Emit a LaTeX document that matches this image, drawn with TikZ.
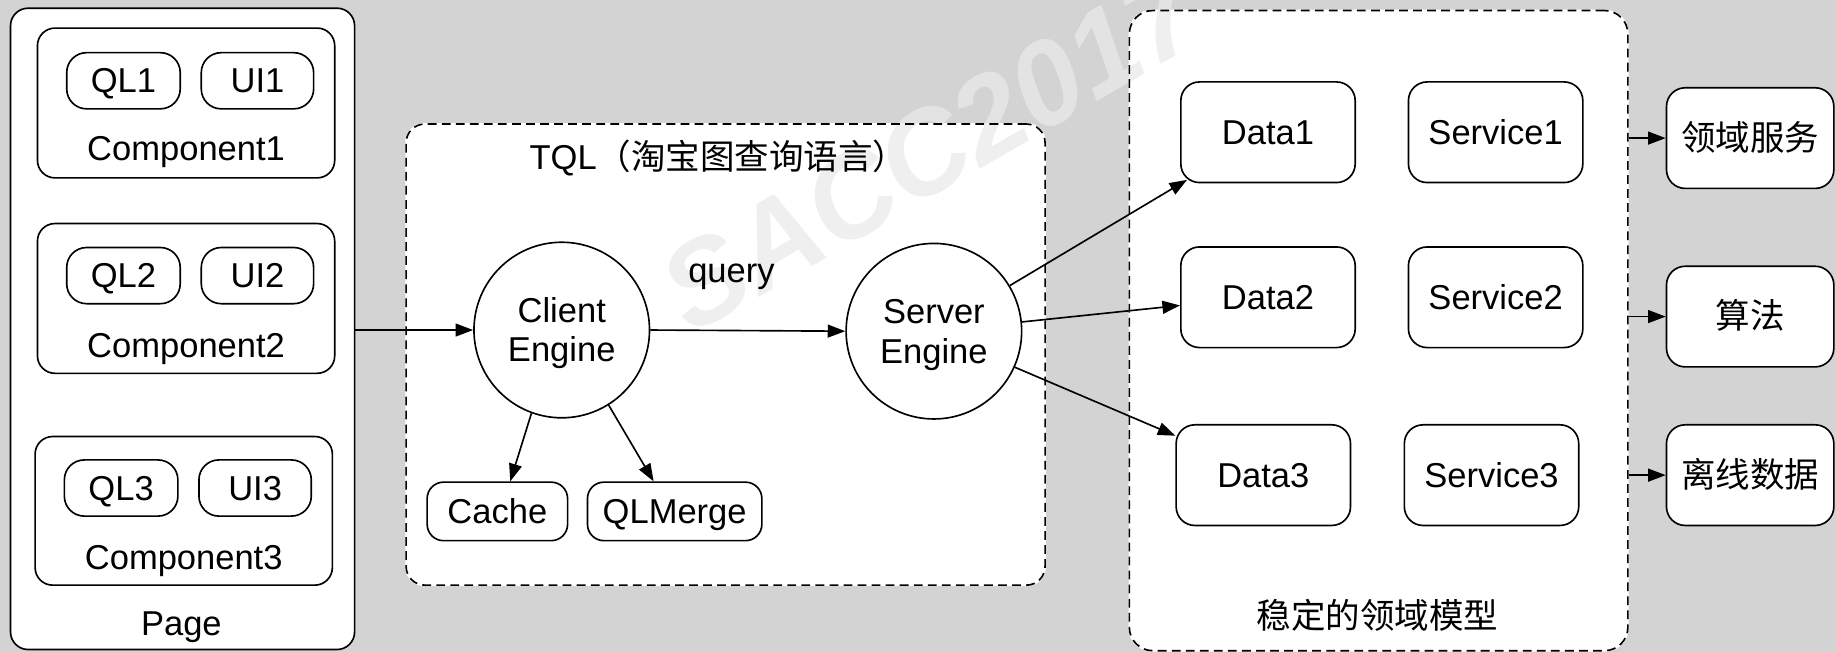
\documentclass[tikz,border=0pt]{standalone}
\usepackage{fontspec}
\setmainfont{Liberation Sans}
\newfontfamily\cjk{Noto Sans CJK SC}
\usetikzlibrary{arrows.meta}
\pgfdeclarelayer{bg}
\pgfdeclarelayer{wm}
\pgfsetlayers{bg,wm,main}
\definecolor{bggray}{RGB}{211,211,211}
\definecolor{wmgray}{RGB}{234,234,234}
\begin{document}
\begin{tikzpicture}[x=1pt,y=-1pt,
  every node/.style={font=\fontsize{29.5}{34}\selectfont, inner sep=0pt, text height=20.5pt, text depth=0pt},
  cjkf/.style={font=\cjk\fontsize{29.5}{34}\selectfont},
  ln/.style={line width=1.4pt},
  box/.style={draw, ln, rounded corners=15pt},
  wbox/.style={box, fill=white},
  pill/.style={draw, ln, rounded corners=17pt, minimum width=97pt, minimum height=48pt},
  comp/.style={draw, ln, rounded corners=15pt, minimum width=254pt, minimum height=128pt},
  dbox/.style={draw, ln, rounded corners=16pt, minimum width=149pt, minimum height=86pt},
  rbox/.style={draw, ln, fill=white, rounded corners=16pt, minimum width=143pt, minimum height=86pt},
  small/.style={draw, ln, rounded corners=14pt, minimum height=50pt},
  eng/.style={circle, draw, ln, minimum size=150pt, align=center, text height=54.5pt, text depth=0pt},
  cont/.style={draw, ln, dash pattern=on 7.5pt off 4.5pt, rounded corners=16pt},
  arr/.style={ln, -{Triangle[length=15pt,width=11pt]}},
  lbl/.style={},
]
\useasboundingbox (0,0) rectangle (1568,557);

% ---------- Page ----------
\node[wbox, minimum width=294pt, minimum height=548pt] (page) at (156,281) {};
\node[comp] (c1) at (159,88) {};
\node[comp] (c2) at (159,255) {};
\node[comp, minimum height=127pt] (c3) at (157,436.5) {};
\node[pill] (ql1) at (105.5,69) {QL1};
\node[pill, minimum width=96pt] (ui1) at (220,69) {UI1};
\node[pill] (ql2) at (105.5,235.5) {QL2};
\node[pill, minimum width=96pt] (ui2) at (220,235.5) {UI2};
\node[pill] (ql3) at (103.5,417) {QL3};
\node[pill, minimum width=96pt] (ui3) at (218,417) {UI3};
\node[lbl] (c1l) at (159,127) {Component1};
\node[lbl] (c2l) at (159,295) {Component2};
\node[lbl] (c3l) at (157,476) {Component3};
\node[lbl] (pagel) at (155,533) {Page};

% ---------- TQL ----------
\node[cont, minimum width=546pt, minimum height=394pt] (tql) at (620,303) {};
\node[lbl] (tqll) at (614,135) {TQL{\cjk（淘宝图查询语言）}};
\node[eng] (client) at (480,282) {Client\\Engine};
\node[eng] (server) at (798,283) {Server\\Engine};
\node[lbl] (query) at (625,231) {query};
\node[small, minimum width=120pt] (cache) at (425,437) {Cache};
\node[small, minimum width=149pt] (qlm) at (576.5,437) {QLMerge};

% ---------- Domain ----------
\node[cont, minimum width=426pt, minimum height=547pt, rounded corners=20pt] (dom) at (1178,282.5) {};
\node[lbl, cjkf] (doml) at (1177,527) {稳定的领域模型};
\node[dbox] (d1) at (1083.5,113) {Data1};
\node[dbox] (s1) at (1278,113) {Service1};
\node[dbox] (d2) at (1083.5,254) {Data2};
\node[dbox] (s2) at (1278,254) {Service2};
\node[dbox] (d3) at (1079.5,406) {Data3};
\node[dbox] (s3) at (1274.5,406) {Service3};

% ---------- Right ----------
\node[rbox, cjkf] (r1) at (1495.5,118) {领域服务};
\node[rbox, cjkf] (r2) at (1495.5,270.5) {算法};
\node[rbox, cjkf] (r3) at (1495.5,406) {离线数据};

% ---------- Connectors ----------
\draw[arr] (page.east |- client.west) -- (client.west);
\draw[arr] (client.east) -- (server.west);
\draw[arr] (client.250) -- ([xshift=11pt]cache.north);
\draw[arr] (client.302) -- ([xshift=-18pt]qlm.north);
\draw[arr] (server.31) -- ([xshift=6pt,yshift=3pt]d1.south west);
\draw[arr] (server.6) -- ([yshift=-7pt]d2.west);
\draw[arr] (server.-24.5) -- ([yshift=-10pt]d3.north west);
\draw[arr] (dom.east |- r1.west) -- (r1.west);
\draw[arr] (dom.east |- r2.west) -- (r2.west);
\draw[arr] (dom.east |- r3.west) -- (r3.west);

% ---------- Layers ----------
\begin{pgfonlayer}{bg}
  \fill[bggray] (0,0) rectangle (1568,557);
  \fill[white, rounded corners=16pt] (tql.south west) rectangle (tql.north east);
  \fill[white, rounded corners=20pt] (dom.south west) rectangle (dom.north east);
\end{pgfonlayer}
\begin{pgfonlayer}{wm}
  \node[rotate=30, text=wmgray, text opacity=0.73, text height=, text depth=, font=\fontsize{101}{101}\selectfont\bfseries\itshape] (wm) at (795,129) {SACC2017};
\end{pgfonlayer}
\end{tikzpicture}
\end{document}
